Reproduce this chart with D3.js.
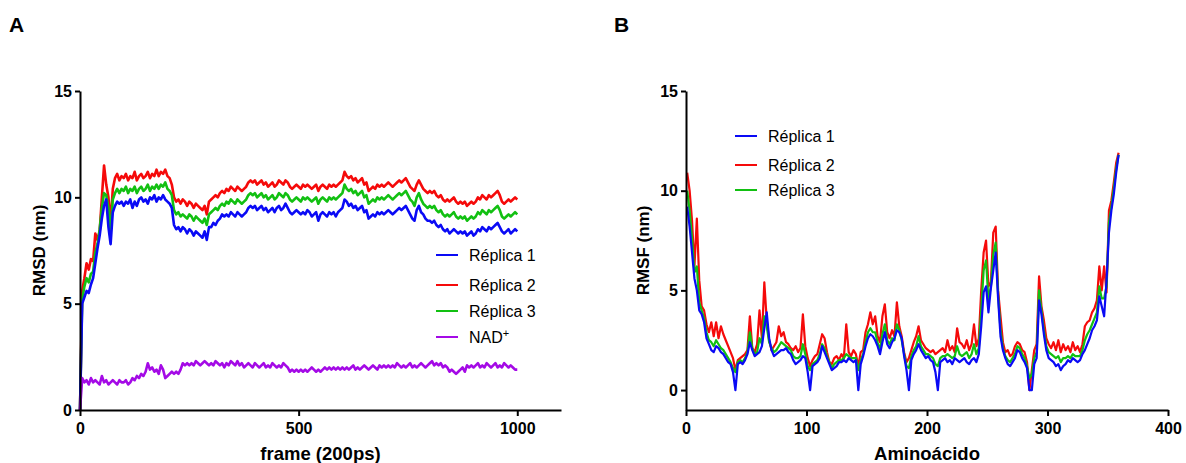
<!DOCTYPE html>
<html>
<head>
<meta charset="utf-8">
<script src="https://cdn.jsdelivr.net/npm/d3@7"></script>
<style>
  body { margin: 0; background: #fff; }
  svg { display: block; font-family: Arial, "Liberation Sans", sans-serif; }
  .axis path, .axis line { stroke: #000; stroke-width: 2; }
  .axis text { font-size: 16px; font-weight: bold; fill: #000; }
</style>
</head>
<body>
<svg id="chart" width="1186" height="463"></svg>
<script>
// ---- Panel A: RMSD per frame (sampled every 5 frames) ----
const framesA = d3.range(0, 1001, 5);

const rmsdReplica1 = [
  0, 5.0, 5.3, 5.6, 5.5, 5.9, 6.2, 6.9, 7.6, 8.2, 9.0, 9.6, 9.9, 8.6, 7.8, 9.3, 9.6, 9.8, 9.7, 9.8,
  9.6, 9.8, 9.7, 9.9, 9.5, 9.8, 9.6, 9.9, 10.0, 9.8, 9.9, 9.7, 10.0, 9.9, 10.1, 9.8, 10.0, 9.9, 10.1, 9.9,
  9.8, 9.7, 9.5, 8.7, 8.5, 8.6, 8.4, 8.6, 8.5, 8.3, 8.5, 8.4, 8.2, 8.4, 8.3, 8.2, 8.1, 8.4, 8.0, 8.6,
  8.6, 8.8, 8.7, 8.9, 9.0, 9.2, 9.1, 9.2, 9.1, 9.3, 9.2, 9.1, 9.3, 9.2, 9.1, 9.2, 9.3, 9.5, 9.6, 9.5,
  9.6, 9.4, 9.5, 9.6, 9.4, 9.5, 9.3, 9.4, 9.5, 9.3, 9.5, 9.6, 9.4, 9.5, 9.7, 9.5, 9.3, 9.2, 9.3, 9.4,
  9.3, 9.2, 9.3, 9.2, 9.4, 9.3, 9.1, 9.2, 9.3, 8.9, 9.2, 9.3, 9.2, 9.1, 9.3, 9.2, 9.3, 9.1, 9.3, 9.4,
  9.5, 9.9, 9.8, 9.6, 9.7, 9.5, 9.6, 9.4, 9.5, 9.6, 9.3, 9.4, 9.0, 9.1, 9.2, 9.1, 9.3, 9.2, 9.3, 9.2,
  9.3, 9.4, 9.3, 9.2, 9.3, 9.4, 9.5, 9.4, 9.5, 9.6, 9.4, 9.2, 9.0, 8.9, 9.4, 9.6, 9.3, 9.2, 9.0, 8.9,
  8.9, 8.8, 8.9, 8.7, 8.6, 8.7, 8.5, 8.4, 8.5, 8.3, 8.4, 8.5, 8.4, 8.3, 8.4, 8.3, 8.4, 8.2, 8.3, 8.4,
  8.2, 8.3, 8.5, 8.4, 8.6, 8.5, 8.4, 8.6, 8.5, 8.6, 8.7, 8.8, 8.6, 8.4, 8.3, 8.4, 8.5, 8.3, 8.4, 8.5,
  8.4
];

const rmsdReplica2 = [
  0, 5.6, 6.2, 6.9, 6.6, 7.1, 7.0, 8.3, 8.0, 8.4, 10.0, 11.5, 10.6, 10.0, 8.8, 10.4, 10.9, 11.1, 10.8, 11.0,
  10.9, 11.1, 10.8, 11.0, 10.9, 11.2, 10.8, 11.0, 11.1, 10.9, 11.0, 11.2, 10.9, 11.1, 11.0, 11.3, 11.0, 11.2, 11.1, 11.3,
  11.0, 10.9, 10.6, 10.0, 9.8, 9.9, 9.7, 9.9, 9.8, 9.6, 9.8, 9.7, 9.5, 9.7, 9.6, 9.5, 9.4, 9.6, 9.2, 9.8,
  9.9, 10.0, 10.1, 10.0, 10.2, 10.3, 10.2, 10.4, 10.3, 10.5, 10.4, 10.3, 10.5, 10.4, 10.3, 10.4, 10.5, 10.7, 10.8, 10.7,
  10.8, 10.6, 10.7, 10.8, 10.6, 10.7, 10.5, 10.6, 10.7, 10.5, 10.6, 10.8, 10.7, 10.6, 10.8, 10.7, 10.5, 10.4, 10.5, 10.6,
  10.5, 10.4, 10.6, 10.5, 10.6, 10.5, 10.4, 10.5, 10.6, 10.3, 10.5, 10.6, 10.5, 10.4, 10.6, 10.5, 10.6, 10.5, 10.6, 10.7,
  10.8, 11.2, 11.0, 10.9, 11.0, 10.8, 10.9, 10.7, 10.8, 10.9, 10.6, 10.7, 10.3, 10.4, 10.5, 10.4, 10.6, 10.5, 10.6, 10.5,
  10.6, 10.7, 10.6, 10.5, 10.6, 10.7, 10.8, 10.7, 10.8, 10.9, 10.7, 10.5, 10.4, 10.3, 10.6, 10.8, 10.6, 10.4, 10.3, 10.2,
  10.3, 10.2, 10.3, 10.1, 10.0, 10.1, 9.9, 9.8, 9.9, 9.8, 9.9, 10.0, 9.8, 9.7, 9.8, 9.7, 9.8, 9.6, 9.7, 9.8,
  9.7, 9.8, 10.0, 9.9, 10.1, 10.0, 9.9, 10.1, 10.0, 10.1, 10.2, 10.3, 10.1, 9.8, 9.7, 9.8, 9.9, 9.8, 9.9, 10.0,
  9.9
];

const rmsdReplica3 = [
  0, 5.2, 5.8, 6.2, 6.0, 6.4, 6.5, 7.4, 7.8, 8.5, 9.5, 10.2, 10.1, 9.5, 8.3, 9.9, 10.2, 10.4, 10.2, 10.4,
  10.3, 10.5, 10.2, 10.4, 10.3, 10.5, 10.2, 10.4, 10.5, 10.3, 10.4, 10.6, 10.3, 10.5, 10.4, 10.6, 10.4, 10.6, 10.5, 10.7,
  10.4, 10.3, 10.1, 9.4, 9.2, 9.3, 9.1, 9.2, 9.1, 9.0, 9.2, 9.1, 8.9, 9.1, 9.0, 8.9, 8.8, 9.0, 8.7, 9.2,
  9.3, 9.4, 9.5, 9.4, 9.6, 9.7, 9.6, 9.8, 9.7, 9.9, 9.8, 9.7, 9.9, 9.8, 9.7, 9.8, 9.9, 10.1, 10.2, 10.1,
  10.2, 10.0, 10.1, 10.2, 10.0, 10.1, 9.9, 10.0, 10.1, 9.9, 10.0, 10.2, 10.1, 10.0, 10.2, 10.1, 9.9, 9.8, 9.9, 10.0,
  9.9, 9.8, 10.0, 9.9, 10.0, 9.9, 9.8, 9.9, 10.0, 9.7, 9.9, 10.0, 9.9, 9.8, 10.0, 9.9, 10.0, 9.9, 10.0, 10.1,
  10.2, 10.6, 10.4, 10.3, 10.4, 10.2, 10.3, 10.1, 10.2, 10.3, 10.0, 10.1, 9.7, 9.8, 9.9, 9.8, 10.0, 9.9, 10.0, 9.9,
  10.0, 10.1, 10.0, 9.9, 10.0, 10.1, 10.2, 10.1, 10.2, 10.3, 10.1, 9.9, 9.8, 9.6, 10.0, 10.2, 9.9, 9.7, 9.6, 9.5,
  9.6, 9.5, 9.6, 9.4, 9.3, 9.4, 9.2, 9.1, 9.2, 9.1, 9.2, 9.3, 9.1, 9.0, 9.1, 9.0, 9.1, 8.9, 9.0, 9.1,
  9.0, 9.1, 9.3, 9.2, 9.4, 9.3, 9.2, 9.4, 9.3, 9.4, 9.5, 9.6, 9.4, 9.1, 9.0, 9.1, 9.2, 9.1, 9.2, 9.3,
  9.2
];

const rmsdNad = [
  0, 1.5, 1.3, 1.4, 1.2, 1.5, 1.3, 1.4, 1.3, 1.2, 1.6, 1.3, 1.4, 1.2, 1.3, 1.4, 1.3, 1.2, 1.4, 1.3,
  1.3, 1.4, 1.2, 1.3, 1.5, 1.4, 1.6, 1.5, 1.7, 1.6, 1.8, 2.2, 1.9, 2.0, 1.8, 1.9, 1.7, 2.1, 1.9, 1.5,
  1.6, 1.7, 1.8, 1.7, 1.8, 1.7, 1.9, 2.2, 2.1, 2.2, 2.1, 2.2, 2.1, 2.3, 2.2, 2.1, 2.2, 2.3, 2.2, 2.1,
  2.2, 2.1, 2.3, 2.2, 2.1, 2.2, 2.0, 2.2, 2.1, 2.3, 2.2, 2.1, 2.3, 2.1, 2.2, 2.0, 2.1, 2.2, 2.1, 2.0,
  2.2, 2.1, 2.0, 2.1, 2.2, 2.0, 2.1, 2.0, 2.2, 2.1, 2.0, 2.1, 2.0, 2.2, 2.1, 2.0, 1.8, 1.9, 1.8, 1.9,
  1.8, 1.9, 1.8, 1.9, 1.8, 1.9, 2.0, 1.9, 1.8, 1.9, 1.8, 1.9, 2.0, 1.9, 2.0, 1.9, 2.0, 1.9, 2.0, 1.9,
  2.0, 1.9, 2.0, 1.9, 2.0, 2.1, 1.9, 2.0, 1.9, 2.0, 2.1, 2.0, 1.9, 2.0, 2.1, 2.0, 1.9, 2.1, 2.0, 2.1,
  2.0, 2.1, 2.0, 2.1, 2.0, 2.2, 2.1, 2.0, 2.1, 2.0, 2.1, 2.2, 2.0, 2.1, 2.0, 2.1, 2.2, 2.1, 2.0, 2.1,
  2.2, 2.3, 2.1, 2.2, 2.1, 2.2, 2.0, 2.1, 2.0, 1.8, 1.9, 1.8, 1.7, 1.8, 1.9, 2.0, 1.8, 2.1, 2.0, 2.1,
  2.0, 2.1, 2.2, 2.0, 2.1, 2.0, 2.2, 2.1, 2.0, 2.1, 2.2, 2.0, 2.1, 2.0, 2.2, 2.1, 2.0, 2.1, 2.0, 1.9,
  1.9
];

const xTicksA = [0, 500, 1000];

// ---- Panel B: RMSF per residue (odd residues 1..359) ----
const residuesB = d3.range(1, 360, 2);

const rmsfReplica1 = [
  9.2, 8.2, 6.9, 5.6, 5.0, 4.0, 3.8, 3.4, 2.6, 2.3, 2.0, 1.9, 2.2, 2.1, 1.9, 1.8, 1.6, 1.4, 1.3, 0.9,
  0, 1.3, 1.4, 1.3, 1.5, 1.8, 2.4, 2.0, 1.7, 1.8, 1.9, 2.2, 3.1, 3.9, 2.6, 2.0, 1.7, 1.8, 1.9, 2.0,
  2.0, 2.1, 1.9, 1.8, 1.5, 1.3, 1.4, 1.5, 1.7, 1.6, 0.9, 0, 1.2, 1.3, 1.4, 1.6, 2.2, 1.9, 1.6, 1.3,
  1.0, 1.1, 1.2, 1.4, 1.4, 1.5, 1.4, 1.6, 1.5, 1.4, 1.5, 0, 1.3, 1.7, 2.2, 2.6, 2.8, 2.7, 2.5, 2.2,
  1.8, 2.4, 2.9, 2.3, 2.1, 2.4, 2.6, 3.0, 2.9, 2.6, 1.7, 1.0, 0, 1.5, 1.8, 2.0, 2.3, 2.0, 1.8, 1.6,
  1.7, 1.5, 1.4, 0.9, 0, 1.4, 1.5, 1.6, 1.4, 1.5, 1.3, 1.6, 1.5, 1.4, 1.5, 1.6, 1.4, 1.3, 1.5, 1.6,
  1.4, 1.8, 3.2, 4.9, 5.2, 3.9, 5.1, 6.0, 6.9, 4.6, 2.7, 2.0, 1.6, 1.3, 1.2, 1.4, 1.6, 2.0, 1.9, 1.6,
  1.4, 1.1, 0, 0, 1.3, 1.6, 4.5, 3.8, 2.8, 2.0, 1.6, 1.5, 1.4, 1.2, 1.3, 1.0, 1.2, 1.3, 1.5, 1.4,
  1.6, 1.5, 1.4, 1.5, 1.8, 2.0, 2.3, 2.6, 3.0, 3.2, 3.5, 4.7, 4.2, 3.7, 5.5, 7.9, 9.0, 9.8, 10.9, 11.8
];

const rmsfReplica2 = [
  10.9, 10.0, 8.5, 6.2, 8.6, 5.5, 4.2, 4.0, 3.3, 2.9, 3.4, 2.7, 3.4, 2.6, 3.2, 2.8, 2.5, 2.2, 1.9, 1.6,
  1.0, 1.5, 1.6, 1.7, 1.8, 2.0, 3.7, 2.1, 1.9, 2.3, 4.0, 2.6, 5.4, 3.5, 2.5, 2.0, 2.2, 2.4, 3.2, 2.7,
  2.9, 2.4, 2.3, 2.1, 2.0, 2.2, 1.9, 2.1, 3.8, 2.2, 1.6, 1.2, 1.5, 1.7, 1.8, 2.3, 2.8, 2.6, 1.9, 1.4,
  1.3, 1.6, 1.7, 1.5, 1.8, 1.6, 3.3, 1.9, 1.7, 2.0, 1.8, 1.2, 1.9, 2.0, 2.9, 3.3, 3.9, 3.3, 3.7, 2.7,
  2.4, 3.7, 4.3, 2.9, 2.6, 3.0, 2.7, 4.4, 3.2, 2.7, 1.9, 1.4, 1.6, 2.0, 2.4, 2.7, 3.2, 2.5, 2.3, 2.1,
  2.0, 1.9, 2.0, 1.8, 1.9, 2.0, 2.1, 1.9, 2.5, 2.0, 2.2, 1.9, 3.1, 2.4, 2.3, 2.1, 2.5, 2.0, 2.3, 3.3,
  2.2, 2.6, 5.0, 6.9, 7.5, 5.2, 5.4, 7.9, 8.2, 5.0, 3.7, 2.4, 1.9, 2.0, 1.7, 1.8, 2.2, 2.4, 2.3, 2.0,
  1.9, 1.4, 0, 1.0, 2.0, 2.3, 5.7, 4.2, 3.5, 2.6, 2.3, 2.1, 2.4, 2.0, 2.5, 1.9, 2.3, 2.0, 2.2, 1.9,
  2.4, 2.0, 2.2, 1.9, 2.3, 3.2, 3.4, 3.5, 3.9, 4.1, 4.5, 6.2, 5.0, 6.2, 4.9, 9.0, 9.5, 10.4, 11.4, 11.9
];

const rmsfReplica3 = [
  10.0, 9.0, 7.6, 5.9, 6.2, 4.4, 4.0, 3.6, 2.9, 2.5, 2.4, 2.2, 2.5, 2.3, 2.1, 2.0, 1.8, 1.6, 1.4, 1.1,
  0.9, 1.4, 1.5, 1.4, 1.6, 1.9, 2.9, 2.1, 1.8, 1.9, 2.6, 2.3, 3.7, 3.2, 2.4, 2.1, 1.9, 2.0, 2.2, 2.4,
  2.3, 2.2, 2.1, 2.0, 1.7, 1.6, 1.6, 1.7, 2.3, 1.8, 1.2, 1.0, 1.3, 1.4, 1.5, 1.8, 2.3, 2.1, 1.7, 1.4,
  1.1, 1.3, 1.4, 1.5, 1.5, 1.6, 1.8, 1.7, 1.6, 1.6, 1.6, 1.0, 1.5, 1.8, 2.4, 2.9, 3.1, 2.9, 2.9, 2.4,
  2.0, 2.8, 3.3, 2.5, 2.3, 2.6, 2.5, 3.3, 3.0, 2.5, 1.8, 1.2, 1.1, 1.7, 2.0, 2.2, 2.7, 2.2, 2.0, 1.8,
  1.8, 1.7, 1.6, 1.3, 1.2, 1.6, 1.7, 1.7, 1.8, 1.7, 1.6, 1.7, 2.2, 1.8, 1.7, 1.8, 1.9, 1.6, 1.8, 2.3,
  1.8, 2.1, 4.0, 6.0, 6.5, 4.5, 5.2, 6.8, 7.4, 4.8, 3.0, 2.1, 1.7, 1.5, 1.4, 1.6, 1.8, 2.2, 2.1, 1.8,
  1.6, 1.2, 0.6, 0.8, 1.6, 1.9, 5.0, 4.0, 3.0, 2.2, 1.9, 1.8, 1.7, 1.6, 1.7, 1.4, 1.6, 1.6, 1.7, 1.6,
  1.8, 1.7, 1.7, 1.7, 2.0, 2.5, 2.8, 3.0, 3.3, 3.6, 3.9, 5.2, 4.6, 4.6, 5.2, 8.4, 9.2, 10.1, 11.1, 11.8
];

const xTicksB = [0, 100, 200, 300, 400];
const yTicks = [0, 5, 10, 15];

const colorR1 = "#0a0af5";
const colorR2 = "#f50a0a";
const colorR3 = "#12c012";
const colorNad = "#a40ae6";

const svg = d3.select("#chart");

function drawAxes(x, y, xTicks, xTitle, yTitle, yTitleX) {
  svg.append("g")
    .attr("class", "axis")
    .attr("transform", `translate(0,${y.range()[0]})`)
    .call(d3.axisBottom(x).tickValues(xTicks).tickSize(6).tickPadding(7).tickSizeOuter(0)
      .tickFormat(d3.format("d")));

  svg.append("g")
    .attr("class", "axis")
    .attr("transform", `translate(${x.range()[0]},0)`)
    .call(d3.axisLeft(y).tickValues(yTicks).tickSize(5).tickPadding(3).tickSizeOuter(0));

  const xMid = (x.range()[0] + x.range()[1]) / 2;
  svg.append("text")
    .attr("x", xMid)
    .attr("y", 460)
    .attr("text-anchor", "middle")
    .attr("font-size", 18.5)
    .attr("font-weight", "bold")
    .text(xTitle);

  svg.append("text")
    .attr("transform", `translate(${yTitleX},${(y.range()[0] + y.range()[1]) / 2}) rotate(-90)`)
    .attr("text-anchor", "middle")
    .attr("font-size", 17)
    .attr("font-weight", "bold")
    .text(yTitle);
}

function drawSeries(x, y, xs, values, color, width) {
  const line = d3.line()
    .x((d, i) => x(xs[i]))
    .y(d => y(d));
  svg.append("path")
    .datum(values)
    .attr("fill", "none")
    .attr("stroke", color)
    .attr("stroke-width", width)
    .attr("stroke-linejoin", "round")
    .attr("d", line);
}

function drawLegend(items, x0, rows) {
  items.forEach((item, i) => {
    svg.append("line")
      .attr("x1", x0).attr("x2", x0 + 22)
      .attr("y1", rows[i]).attr("y2", rows[i])
      .attr("stroke", item.color)
      .attr("stroke-width", 2);
    const t = svg.append("text")
      .attr("x", x0 + 33)
      .attr("y", rows[i] + 5.7)
      .attr("font-size", 16)
      .text(item.label);
    if (item.sup) {
      t.append("tspan").attr("dy", -6).attr("font-size", 11).text(item.sup);
    }
  });
}

// panel letters
svg.append("text").attr("x", 9).attr("y", 32).attr("font-size", 21).attr("font-weight", "bold").text("A");
svg.append("text").attr("x", 614).attr("y", 32).attr("font-size", 21).attr("font-weight", "bold").text("B");

// Panel A
const xA = d3.scaleLinear().domain([0, 1100]).range([80, 561]);
const yA = d3.scaleLinear().domain([0, 15]).range([410, 91]);

drawSeries(xA, yA, framesA, rmsdReplica2, colorR2, 2.6);
drawSeries(xA, yA, framesA, rmsdReplica3, colorR3, 2.6);
drawSeries(xA, yA, framesA, rmsdReplica1, colorR1, 2.6);
drawSeries(xA, yA, framesA, rmsdNad, colorNad, 2.6);
drawAxes(xA, yA, xTicksA, "frame (200ps)", "RMSD (nm)", 45);

drawLegend([
  {label: "Réplica 1", color: colorR1},
  {label: "Réplica 2", color: colorR2},
  {label: "Réplica 3", color: colorR3},
  {label: "NAD", sup: "+", color: colorNad}
], 436, [255, 285, 311, 337]);

// Panel B
const xB = d3.scaleLinear().domain([0, 400]).range([686, 1168]);
const yB = d3.scaleLinear().domain([-1, 15]).range([410, 91]);

drawSeries(xB, yB, residuesB, rmsfReplica2, colorR2, 2.2);
drawSeries(xB, yB, residuesB, rmsfReplica3, colorR3, 2.2);
drawSeries(xB, yB, residuesB, rmsfReplica1, colorR1, 2.2);
drawAxes(xB, yB, xTicksB, "Aminoácido", "RMSF (nm)", 649);

drawLegend([
  {label: "Réplica 1", color: colorR1},
  {label: "Réplica 2", color: colorR2},
  {label: "Réplica 3", color: colorR3}
], 735, [136, 165, 190]);
</script>
</body>
</html>
